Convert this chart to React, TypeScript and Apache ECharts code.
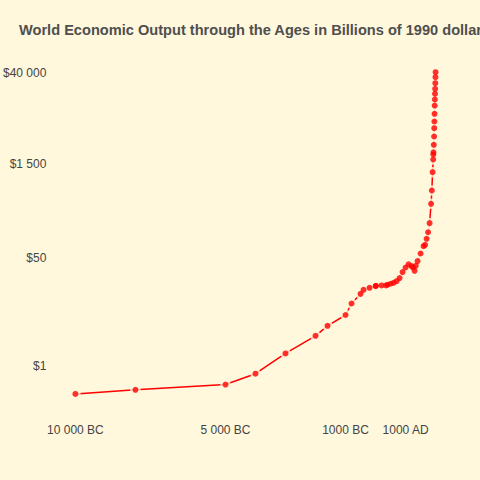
import React, { useEffect, useRef } from "react";
import * as echarts from "echarts";

const years = [
  -10000, -8000, -5000, -4000, -3000, -2000, -1600, -1000, -800, -500,
  -400, -200, 1, 14, 200, 350, 400, 500, 600, 700,
  800, 900, 1000, 1100, 1200, 1250, 1300, 1340, 1400, 1500,
  1600, 1650, 1700, 1750, 1800, 1850, 1875, 1900, 1920, 1925,
  1930, 1940, 1950, 1955, 1960, 1965, 1970, 1975, 1980, 1985,
  1990, 1995, 2000,
];
const gdp = [
  0.37, 0.43, 0.52, 0.77, 1.6, 3.03, 4.35, 6.43, 9.75, 13.8,
  16.0, 17.2, 18.2, 18.5, 18.7, 18.7, 19.2, 19.9, 20.6, 21.8,
  24.4, 30.3, 35.8, 40.3, 37.6, 35.8, 31.8, 38.1, 45.2, 59.4,
  77.4, 81.2, 101, 128, 178, 358, 579, 1122, 1778, 2130,
  2310, 3020, 4080, 5510, 7020, 9260, 12500, 15560, 19100, 22900,
  28000, 34800, 41700,
];
const xTickValues = [-10000, -5000, -1000, 1000];
const xTickLabels = ["10 000 BC", "5 000 BC", "1000 BC", "1000 AD"];
const yTickValues = [1, 50, 1500, 40000];
const yTickLabels = ["$1", "$50", "$1 500", "$40 000"];
const titleText = "World Economic Output through the Ages in Billions of 1990 dollars";

const BG = "#FFF8DC";
const RED = "#FF0000";

export default function App() {
  const ref = useRef<HTMLDivElement>(null);
  useEffect(() => {
    if (!ref.current) return;
    const chart = echarts.init(ref.current, undefined, { renderer: "svg" });
    const pts = years.map((y, i) => [y, Math.log10(gdp[i])]);
    const yTickLogs = yTickValues.map((v) => Math.log10(v));
    const nearestIdx = (arr: number[], v: number) => {
      let best = 0;
      for (let i = 1; i < arr.length; i++) {
        if (Math.abs(arr[i] - v) < Math.abs(arr[best] - v)) best = i;
      }
      return best;
    };
    chart.setOption({
      animation: false,
      backgroundColor: BG,
      title: {
        text: titleText,
        left: 19,
        top: 22.5,
        padding: 0,
        textStyle: {
          fontFamily: "Liberation Sans",
          fontSize: 14.6,
          fontWeight: "bold",
          color: "#4f4f4f",
        },
      },
      grid: { left: 55.2, right: 26.4, top: 56.1, bottom: 69.9, containLabel: false },
      xAxis: {
        type: "value",
        min: -10600,
        max: 2600,
        axisLine: { show: false },
        axisTick: { show: false },
        splitLine: { show: false },
        axisLabel: {
          customValues: xTickValues,
          margin: 14,
          fontFamily: "Liberation Sans",
          fontSize: 12,
          color: "#444444",
          formatter: (v: number) => xTickLabels[nearestIdx(xTickValues, v)],
        },
      },
      yAxis: {
        type: "value",
        min: -0.685,
        max: 4.873,
        axisLine: { show: false },
        axisTick: { show: false },
        splitLine: { show: false },
        axisLabel: {
          customValues: yTickLogs,
          margin: 11,
          fontFamily: "Liberation Sans",
          fontSize: 12,
          color: "#444444",
          formatter: (v: number) => yTickLabels[nearestIdx(yTickLogs, v)],
        },
      },
      series: [
        {
          type: "line",
          data: pts,
          showSymbol: false,
          silent: true,
          z: 1,
          lineStyle: { color: RED, width: 1.5 },
        },
        {
          type: "scatter",
          data: pts,
          symbol: "circle",
          symbolSize: 10.5,
          silent: true,
          z: 2,
          itemStyle: { color: BG },
        },
        {
          type: "scatter",
          data: pts,
          symbol: "circle",
          symbolSize: 6,
          silent: true,
          z: 3,
          itemStyle: { color: RED },
        },
      ],
    });
    return () => chart.dispose();
  }, []);
  return (
    <div
      ref={ref}
      style={{ position: "fixed", left: 0, top: 0, width: 480, height: 480 }}
    />
  );
}
